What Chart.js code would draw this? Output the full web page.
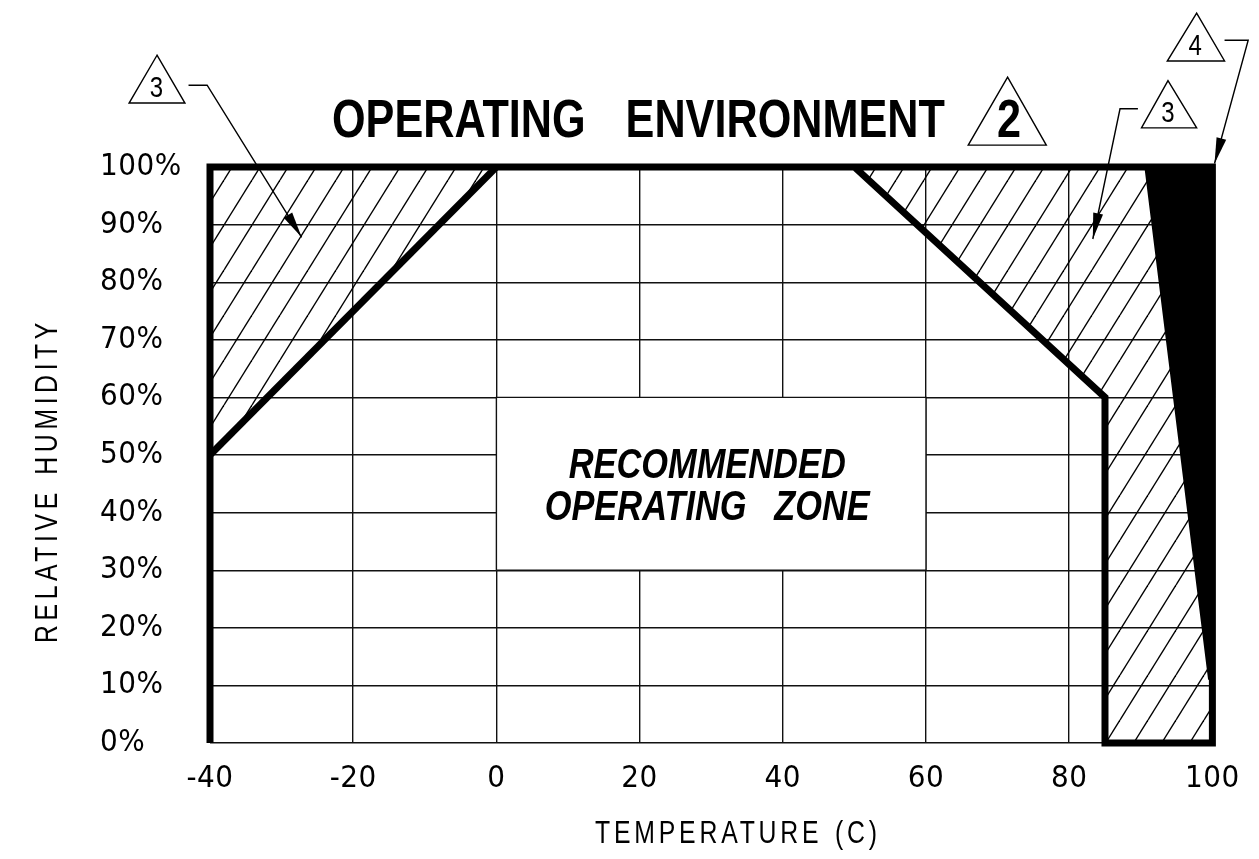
<!DOCTYPE html>
<html>
<head>
<meta charset="utf-8">
<script src="https://cdn.jsdelivr.net/npm/chart.js@4.4.1/dist/chart.umd.min.js"></script>
<style>
  html, body { margin: 0; padding: 0; background: #fff; }
  #wrap { width: 1259px; height: 859px; }
</style>
</head>
<body>
<div id="wrap"><canvas id="app" width="1259" height="859"></canvas></div>
<script>
// tick labels
const tempTicks = [-40, -20, 0, 20, 40, 60, 80, 100];
const rhTicks = [0, 10, 20, 30, 40, 50, 60, 70, 80, 90, 100];

// zone boundaries, temperature (C) / relative humidity (%)
const outlineTemp = [-40, -40, 100, 100, 85, 85, 50];
const outlineRh = [0, 100, 100, 0, 0, 60, 100];
const coldEdgeTemp = [-40, 0];
const coldEdgeRh = [50, 100];
const coldHatchTemp = [-40, -40, 0];
const coldHatchRh = [50, 100, 100];
const hotHatchTemp = [50, 100, 100, 85, 85];
const hotHatchRh = [100, 100, 0, 0, 60];
const limitTemp = [90.5, 100, 100, 99.4];
const limitRh = [100, 100, 11, 11];
const zoneTemp = [0, 60, 60, 0, 0];
const zoneRh = [30, 30, 60, 60, 30];

// callout notes (triangle, number, leader), in chart units
const notes = [
  { label: '3', tri: [[-47.4, 119.4], [-51.3, 111.1], [-43.5, 111.1]], at: [-47.5, 112.2],
    leader: [[-43.0, 114.2], [-40.4, 114.2], [-27.2, 87.8]] },
  { label: '3', tri: [[93.8, 115.0], [90.1, 106.8], [97.8, 106.8]], at: [93.8, 107.8],
    leader: [[89.6, 110.1], [87.1, 110.1], [83.3, 87.5]] },
  { label: '4', tri: [[97.8, 126.7], [93.7, 118.4], [101.7, 118.4]], at: [97.6, 119.5],
    leader: [[101.7, 122.0], [105.0, 122.0], [100.3, 100.6]] }
];
const titleNote = { label: '2', tri: [[71.4, 115.6], [65.9, 103.8], [76.8, 103.8]], at: [71.6, 105.2] };

const TICK_FONT = "'DejaVu Sans Condensed', 'Liberation Sans', sans-serif";
const NOTE_FONT = "'Liberation Sans', Arial, sans-serif";
const SQUEEZE = 0.8;

function series(xs, ys) {
  return xs.map((x, i) => ({ x, y: ys[i] }));
}

function makeHatch() {
  const c = document.createElement('canvas');
  c.width = 28; c.height = 45;
  const g = c.getContext('2d');
  g.strokeStyle = '#000';
  g.lineWidth = 1.4;
  for (let k = -1; k <= 1; k++) {
    g.beginPath();
    g.moveTo(k * 28, 45);
    g.lineTo(k * 28 + 28, 0);
    g.stroke();
  }
  return g.createPattern(c, 'repeat');
}
const hatch = makeHatch();

// narrow CAD-like lettering: squeeze horizontally, spacing given in final pixels
function cadText(ctx, text, x, y, font, spacing, words, align) {
  ctx.save();
  ctx.font = font;
  ctx.letterSpacing = (spacing / SQUEEZE) + 'px';
  ctx.wordSpacing = ((words || 0) / SQUEEZE) + 'px';
  ctx.textAlign = 'left';
  ctx.textBaseline = 'alphabetic';
  ctx.fillStyle = '#000';
  const w = (ctx.measureText(text).width - spacing / SQUEEZE) * SQUEEZE;
  ctx.translate(align === 'center' ? x - w / 2 : x, y);
  ctx.scale(SQUEEZE, 1);
  ctx.fillText(text, 0, 0);
  ctx.restore();
}

function arrowHead(ctx, from, tip, len, half) {
  const dx = tip[0] - from[0], dy = tip[1] - from[1];
  const d = Math.hypot(dx, dy);
  const ux = dx / d, uy = dy / d;
  const bx = tip[0] - ux * len, by = tip[1] - uy * len;
  ctx.beginPath();
  ctx.moveTo(tip[0], tip[1]);
  ctx.lineTo(bx - uy * half, by + ux * half);
  ctx.lineTo(bx + uy * half, by - ux * half);
  ctx.closePath();
  ctx.fill();
}

const notesPlugin = {
  id: 'notes',
  beforeDraw(chart) {
    chart.ctx.letterSpacing = '0.5px';
  },
  beforeDatasetsDraw(chart) {
    chart.ctx.letterSpacing = '0px';
  },
  afterDraw(chart) {
    const ctx = chart.ctx;
    const sx = chart.scales.x, sy = chart.scales.y;
    const px = p => [sx.getPixelForValue(p[0]), sy.getPixelForValue(p[1])];

    ctx.save();
    ctx.strokeStyle = '#000';
    ctx.fillStyle = '#000';
    ctx.lineWidth = 1.4;

    const drawTri = n => {
      const t = n.tri.map(px);
      ctx.beginPath();
      ctx.moveTo(t[0][0], t[0][1]);
      ctx.lineTo(t[1][0], t[1][1]);
      ctx.lineTo(t[2][0], t[2][1]);
      ctx.closePath();
      ctx.stroke();
    };

    notes.forEach(n => {
      drawTri(n);
      const a = px(n.at);
      cadText(ctx, n.label, a[0], a[1], '30px ' + NOTE_FONT, 0, 0, 'center');
      const l = n.leader.map(px);
      ctx.beginPath();
      ctx.moveTo(l[0][0], l[0][1]);
      for (let i = 1; i < l.length; i++) ctx.lineTo(l[i][0], l[i][1]);
      ctx.stroke();
      arrowHead(ctx, l[l.length - 2], l[l.length - 1], 26, 5);
    });

    drawTri(titleNote);
    const t2 = px(titleNote.at);
    cadText(ctx, titleNote.label, t2[0], t2[1], 'bold 54px ' + NOTE_FONT, 0, 0, 'center');

    // title
    cadText(ctx, 'OPERATING ENVIRONMENT', 332, 137, 'bold 54px ' + NOTE_FONT, 0, 28, 'left');

    // zone label
    const cx = sx.getPixelForValue(30) - 4;
    cadText(ctx, 'RECOMMENDED', cx, 478, 'italic bold 43px ' + NOTE_FONT, 0, 0, 'center');
    cadText(ctx, 'OPERATING ZONE', cx, 520, 'italic bold 43px ' + NOTE_FONT, 0, 18, 'center');

    // axis titles
    cadText(ctx, 'TEMPERATURE (C)', 595, 843, '31px ' + NOTE_FONT, 3.8, 2, 'left');
    ctx.translate(57, 643);
    ctx.rotate(-Math.PI / 2);
    cadText(ctx, 'RELATIVE HUMIDITY', 0, 0, '31px ' + NOTE_FONT, 4.6, 2, 'left');
    ctx.restore();
  }
};

const base = { showLine: true, pointRadius: 0, pointHoverRadius: 0, tension: 0, clip: false };

new Chart(document.getElementById('app'), {
  type: 'scatter',
  data: {
    datasets: [
      { ...base, label: 'outline', data: series(outlineTemp, outlineRh), borderColor: '#000',
        borderWidth: 7, borderJoinStyle: 'miter', fill: false, order: 1 },
      { ...base, label: 'cold edge', data: series(coldEdgeTemp, coldEdgeRh), borderColor: '#000',
        borderWidth: 7, fill: false, order: 1 },
      { ...base, label: 'limit', data: series(limitTemp, limitRh), borderColor: 'rgba(0,0,0,0)',
        borderWidth: 1, backgroundColor: '#000', fill: 'shape', order: 2 },
      { ...base, label: 'cold hatch', data: series(coldHatchTemp, coldHatchRh), borderColor: 'rgba(0,0,0,0)',
        borderWidth: 1, backgroundColor: hatch, fill: 'shape', order: 3 },
      { ...base, label: 'hot hatch', data: series(hotHatchTemp, hotHatchRh), borderColor: 'rgba(0,0,0,0)',
        borderWidth: 1, backgroundColor: hatch, fill: 'shape', order: 3 },
      { ...base, label: 'zone', data: series(zoneTemp, zoneRh), borderColor: '#111',
        borderWidth: 1.4, backgroundColor: '#fff', fill: 'shape', order: 4 }
    ]
  },
  options: {
    responsive: false,
    animation: false,
    events: [],
    layout: { padding: { left: 100, right: 42, top: 167, bottom: 0 } },
    plugins: { legend: { display: false }, tooltip: { enabled: false } },
    scales: {
      x: {
        type: 'linear', min: -40, max: 100,
        afterBuildTicks: s => { s.ticks = tempTicks.map(v => ({ value: v })); },
        afterFit: s => { s.height = 116; },
        ticks: { color: '#000', font: { family: TICK_FONT, size: 31, lineHeight: 1 }, padding: 20, maxRotation: 0, autoSkip: false },
        grid: { color: '#111', lineWidth: 1.4, drawTicks: false },
        border: { display: false }
      },
      y: {
        type: 'linear', min: 0, max: 100,
        afterBuildTicks: s => { s.ticks = rhTicks.map(v => ({ value: v })); },
        afterFit: s => { s.width = 110; },
        ticks: { color: '#000', font: { family: TICK_FONT, size: 31, lineHeight: 1 }, crossAlign: 'far', autoSkip: false,
          callback: v => v + '%' },
        grid: { color: '#111', lineWidth: 1.4, drawTicks: false },
        border: { display: false }
      }
    }
  },
  plugins: [notesPlugin]
});
</script>
</body>
</html>
